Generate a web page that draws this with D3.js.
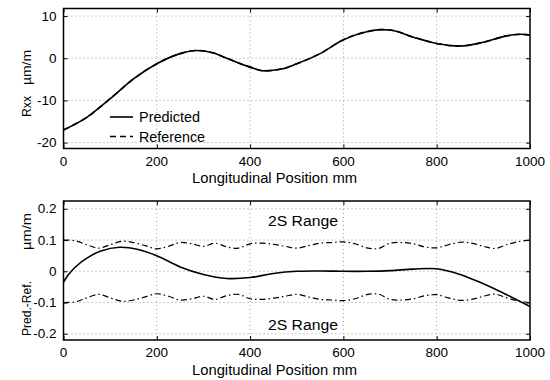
<!DOCTYPE html>
<html>
<head>
<meta charset="utf-8">
<script src="https://cdn.jsdelivr.net/npm/d3@7"></script>
<style>
  body { margin: 0; background: #fff; }
  text { font-family: "Liberation Sans", Arial, sans-serif; fill: #000; }
</style>
</head>
<body>
<div id="chart"></div>
<script>
// ---- data ----
var xTicks = [0, 200, 400, 600, 800, 1000];
var topTicks = [-20, -10, 0, 10];
var botTicks = [-0.2, -0.1, 0, 0.1, 0.2];
var botTickLabels = ["-0.2", "-0.1", "0", "0.1", "0.2"];

// upper panel
var posTop = [0, 50, 100, 150, 200, 250, 285, 320, 350, 400, 430, 470, 500, 550, 600, 650, 680, 700, 750, 800, 850, 900, 950, 980, 1000];
var predicted = [-17, -14.0, -9.6, -4.9, -1.3, 1.1, 1.85, 1.3, 0.0, -2.1, -3.0, -2.5, -1.3, 1.1, 4.4, 6.3, 6.8, 6.7, 5.0, 3.5, 2.9, 3.8, 5.3, 5.7, 5.5];
var reference = [-17, -14.0, -9.6, -4.9, -1.3, 1.1, 1.85, 1.3, 0.0, -2.1, -3.0, -2.5, -1.3, 1.1, 4.4, 6.3, 6.8, 6.7, 5.0, 3.5, 2.9, 3.8, 5.3, 5.7, 5.5];

// lower panel
var posDiff = [0, 10, 25, 50, 80, 120, 160, 200, 250, 300, 350, 400, 450, 500, 550, 600, 650, 700, 750, 800, 850, 900, 950, 1000];
var diff = [-0.035, -0.012, 0.013, 0.042, 0.065, 0.077, 0.07, 0.05, 0.014, -0.01, -0.023, -0.02, -0.007, 0, 0.001, 0, 0, 0.002, 0.007, 0.008, -0.01, -0.04, -0.075, -0.113];

var posBand = [0, 25, 50, 75, 100, 125, 150, 175, 200, 225, 250, 275, 300, 325, 350, 375, 400, 425, 450, 475, 500, 525, 550, 575, 600, 625, 650, 675, 700, 725, 750, 775, 800, 825, 850, 875, 900, 925, 950, 975, 1000];
var bandUpper = [0.100, 0.098, 0.085, 0.074, 0.085, 0.096, 0.092, 0.082, 0.072, 0.080, 0.092, 0.088, 0.080, 0.090, 0.078, 0.074, 0.088, 0.090, 0.086, 0.080, 0.074, 0.082, 0.090, 0.092, 0.094, 0.088, 0.075, 0.073, 0.090, 0.092, 0.088, 0.078, 0.075, 0.085, 0.093, 0.090, 0.080, 0.073, 0.085, 0.095, 0.100];
var bandLower = [-0.100, -0.098, -0.085, -0.074, -0.085, -0.096, -0.092, -0.082, -0.072, -0.080, -0.092, -0.088, -0.080, -0.090, -0.078, -0.074, -0.088, -0.090, -0.086, -0.080, -0.074, -0.082, -0.090, -0.092, -0.094, -0.088, -0.075, -0.073, -0.090, -0.092, -0.088, -0.078, -0.075, -0.085, -0.093, -0.090, -0.080, -0.073, -0.085, -0.095, -0.100];

var W = 550, H = 380;
var left = 63.5, right = 530;

var svg = d3.select("#chart")
  .append("svg")
    .attr("width", W)
    .attr("height", H);

var x = d3.scaleLinear().domain([0, 1000]).range([left, right]);

// text helper; len stretches it to the width seen in the picture
function label(px, py, str, len, rot, size) {
  var t = svg.append("text")
    .attr("transform", "translate(" + px + "," + py + ")" + (rot ? "rotate(-90)" : ""))
    .style("font-size", (size || 14) + "px")
    .text(str);
  if (len) t.attr("textLength", len).attr("lengthAdjust", "spacingAndGlyphs");
  return t;
}

// draws one framed panel with dotted grid, inward ticks, labels
function panel(y, yTicks, yLabels, top, bottom) {
  var g = svg.append("g");

  // grid
  g.selectAll(".vgrid").data(xTicks.slice(1, -1)).enter().append("line")
    .attr("x1", function(d) { return x(d); }).attr("x2", function(d) { return x(d); })
    .attr("y1", top).attr("y2", bottom)
    .attr("stroke", "#999").attr("stroke-width", 1).attr("stroke-dasharray", "1,3");
  g.selectAll(".hgrid").data(yTicks).enter().append("line")
    .attr("x1", left).attr("x2", right)
    .attr("y1", function(d) { return y(d); }).attr("y2", function(d) { return y(d); })
    .attr("stroke", "#999").attr("stroke-width", 1).attr("stroke-dasharray", "1,3");

  // axes (inward ticks, both sides)
  g.append("g").attr("transform", "translate(0," + bottom + ")")
    .call(d3.axisTop(x).tickValues(xTicks).tickSize(4).tickFormat(""))
    .call(function(a) { a.select(".domain").remove(); });
  g.append("g").attr("transform", "translate(0," + top + ")")
    .call(d3.axisBottom(x).tickValues(xTicks).tickSize(4).tickFormat(""))
    .call(function(a) { a.select(".domain").remove(); });
  g.append("g").attr("transform", "translate(" + left + ",0)")
    .call(d3.axisRight(y).tickValues(yTicks).tickSize(4).tickFormat(""))
    .call(function(a) { a.select(".domain").remove(); });
  g.append("g").attr("transform", "translate(" + right + ",0)")
    .call(d3.axisLeft(y).tickValues(yTicks).tickSize(4).tickFormat(""))
    .call(function(a) { a.select(".domain").remove(); });

  // tick labels
  g.selectAll(".xl").data(xTicks).enter().append("text")
    .attr("x", function(d) { return x(d); })
    .attr("y", bottom + 17)
    .attr("text-anchor", "middle")
    .style("font-size", "13.5px")
    .text(function(d) { return d; });
  g.selectAll(".yl").data(yTicks).enter().append("text")
    .attr("x", left - 7)
    .attr("y", function(d) { return y(d) + 4.5; })
    .attr("text-anchor", "end")
    .style("font-size", "13.5px")
    .text(function(d, i) { return yLabels[i]; });

  // x title
  label(192, bottom + 34.5, "Longitudinal Position mm", 165);

  return g;
}

function frame(top, bottom) {
  svg.append("rect")
    .attr("x", left).attr("y", top)
    .attr("width", right - left).attr("height", bottom - top)
    .attr("fill", "none").attr("stroke", "#000").attr("stroke-width", 1.5);
}

// ---- upper panel ----
var yTop = d3.scaleLinear().domain([-21.4, 11.8]).range([148.5, 8.5]);
panel(yTop, topTicks, topTicks.map(String), 8.5, 148.5);

var lineTop = d3.line()
  .x(function(d) { return x(d[0]); })
  .y(function(d) { return yTop(d[1]); })
  .curve(d3.curveMonotoneX);

svg.append("path")
  .datum(posTop.map(function(p, i) { return [p, reference[i]]; }))
  .attr("d", lineTop)
  .attr("fill", "none").attr("stroke", "#000").attr("stroke-width", 1.6)
  .attr("stroke-dasharray", "6,4");
svg.append("path")
  .datum(posTop.map(function(p, i) { return [p, predicted[i]]; }))
  .attr("d", lineTop)
  .attr("fill", "none").attr("stroke", "#000").attr("stroke-width", 1.6);

frame(8.5, 148.5);

// legend
svg.append("line").attr("x1", 110).attr("x2", 133).attr("y1", 117).attr("y2", 117)
  .attr("stroke", "#000").attr("stroke-width", 1.6);
svg.append("line").attr("x1", 110).attr("x2", 133).attr("y1", 136.5).attr("y2", 136.5)
  .attr("stroke", "#000").attr("stroke-width", 1.6).attr("stroke-dasharray", "6,4");
label(139, 122, "Predicted", 61);
label(139, 141.5, "Reference", 66);

// y title
label(31, 117, "Rxx", 21, true, 13);
label(31, 85, "µm/m", 35, true, 13);

// ---- lower panel ----
var yBot = d3.scaleLinear().domain([-0.22, 0.225]).range([340, 201]);
panel(yBot, botTicks, botTickLabels, 201, 340);

var lineBot = d3.line()
  .x(function(d) { return x(d[0]); })
  .y(function(d) { return yBot(d[1]); })
  .curve(d3.curveCatmullRom);

[bandUpper, bandLower].forEach(function(b) {
  svg.append("path")
    .datum(posBand.map(function(p, i) { return [p, b[i]]; }))
    .attr("d", lineBot)
    .attr("fill", "none").attr("stroke", "#000").attr("stroke-width", 1.2)
    .attr("stroke-dasharray", "6,3,1.5,3");
});

svg.append("path")
  .datum(posDiff.map(function(p, i) { return [p, diff[i]]; }))
  .attr("d", lineBot)
  .attr("fill", "none").attr("stroke", "#000").attr("stroke-width", 1.6);

frame(201, 340);

label(268, 226, "2S Range", 70);
label(268, 330, "2S Range", 70);

label(31, 336, "Pred.-Ref.", 55, true, 13);
label(31, 250, "µm/m", 37, true, 13);
</script>
</body>
</html>
